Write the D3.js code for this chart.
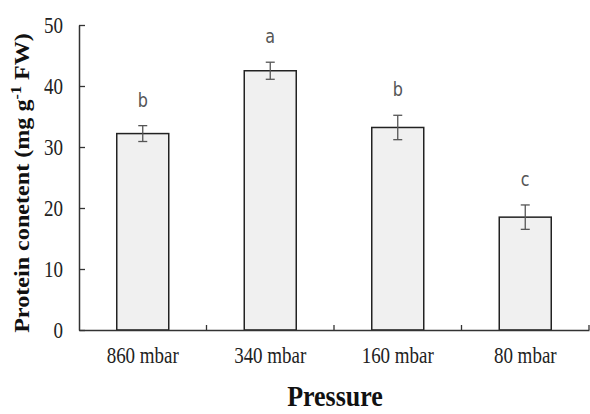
<!DOCTYPE html>
<html>
<head>
<meta charset="utf-8">
<script src="https://cdn.jsdelivr.net/npm/d3@7"></script>
<style>
  body { margin: 0; background: #fff; }
</style>
</head>
<body>
<svg id="chart" width="590" height="414"></svg>
<script>
// data
const categories = ["860 mbar", "340 mbar", "160 mbar", "80 mbar"];
const protein = [32.2, 42.5, 33.2, 18.5];
const errors = [1.3, 1.4, 2.0, 2.0];
const letters = ["b", "a", "b", "c"];
const yTicks = [0, 10, 20, 30, 40, 50];

const margin = {top: 25, right: 1, bottom: 84, left: 79};
const width = 590 - margin.left - margin.right,
      height = 414 - margin.top - margin.bottom;
const stretch = 1.2; // the original figure is a bit taller than wide

const serif = "'Liberation Serif', 'Times New Roman', serif";

const svg = d3.select("#chart")
  .append("g")
  .attr("transform", "translate(" + margin.left + "," + margin.top + ")");

const x = d3.scaleBand().domain(categories).range([0, width]).padding(0);
const y = d3.scaleLinear().domain([0, 50]).range([height, 0]);
const barW = 52;
const cx = i => x(categories[i]) + x.bandwidth() / 2;

// bars
svg.selectAll("rect.bar")
  .data(protein)
  .enter().append("rect")
  .attr("class", "bar")
  .attr("x", (d, i) => cx(i) - barW / 2)
  .attr("y", d => y(d))
  .attr("width", barW)
  .attr("height", d => height - y(d))
  .attr("fill", "#f0f0f0")
  .attr("stroke", "#222")
  .attr("stroke-width", 1.5);

// error bars
const err = svg.selectAll("g.err")
  .data(protein)
  .enter().append("g")
  .attr("class", "err")
  .attr("stroke", "#555")
  .attr("stroke-width", 1.3);
err.append("line")
  .attr("x1", (d, i) => cx(i))
  .attr("x2", (d, i) => cx(i))
  .attr("y1", (d, i) => y(d + errors[i]))
  .attr("y2", (d, i) => y(d - errors[i]));
[1, -1].forEach(s => {
  err.append("line")
    .attr("x1", (d, i) => cx(i) - 4.5)
    .attr("x2", (d, i) => cx(i) + 4.5)
    .attr("y1", (d, i) => y(d + s * errors[i]))
    .attr("y2", (d, i) => y(d + s * errors[i]));
});

// significance letters
svg.selectAll("text.sig")
  .data(protein)
  .enter().append("text")
  .attr("class", "sig")
  .attr("transform", (d, i) => "translate(" + cx(i) + "," + (y(d + errors[i]) - 19) + ") scale(1," + stretch + ")")
  .attr("text-anchor", "middle")
  .attr("font-family", "'DejaVu Sans', sans-serif")
  .attr("font-size", 16)
  .attr("fill", "#555")
  .text((d, i) => letters[i]);

// x axis
const xAxis = svg.append("g")
  .attr("transform", "translate(0," + height + ")")
  .call(d3.axisBottom(x).tickSize(0));
xAxis.select(".domain").attr("stroke", "#333").attr("stroke-width", 1.5);
xAxis.selectAll("text")
  .attr("y", null).attr("dy", null)
  .attr("transform", "translate(0,33) scale(1," + stretch + ")")
  .attr("font-family", serif)
  .attr("font-size", 19)
  .attr("fill", "#222");
// category separator ticks pointing up
svg.selectAll("line.sep")
  .data(categories)
  .enter().append("line")
  .attr("class", "sep")
  .attr("x1", d => x(d) + x.bandwidth())
  .attr("x2", d => x(d) + x.bandwidth())
  .attr("y1", height)
  .attr("y2", height - 5)
  .attr("stroke", "#333")
  .attr("stroke-width", 1.3);

// y axis
const yAxis = svg.append("g")
  .call(d3.axisLeft(y).tickValues(yTicks).tickSizeInner(-6).tickSizeOuter(0));
yAxis.select(".domain").attr("stroke", "#333").attr("stroke-width", 1.5);
yAxis.selectAll(".tick line").attr("stroke", "#333").attr("stroke-width", 1.3);
yAxis.selectAll("text")
  .attr("x", null).attr("dy", null)
  .attr("transform", "translate(-16,7) scale(1," + stretch + ")")
  .attr("font-family", serif)
  .attr("font-size", 19)
  .attr("fill", "#222");

// axis titles
const yLab = svg.append("text")
  .attr("transform", "translate(" + (29 - margin.left) + "," + (183 - margin.top) + ") rotate(-90) scale(1.15,1)")
  .attr("text-anchor", "middle")
  .attr("font-family", serif)
  .attr("font-weight", "bold")
  .attr("font-size", 21)
  .attr("fill", "#111");
yLab.append("tspan").text("Protein conetent (mg g");
yLab.append("tspan").attr("dy", -8).attr("font-size", 14).text("-1");
yLab.append("tspan").attr("dy", 8).text(" FW)");

svg.append("text")
  .attr("transform", "translate(" + (335 - margin.left) + "," + (406 - margin.top) + ") scale(1,1.15)")
  .attr("text-anchor", "middle")
  .attr("font-family", serif)
  .attr("font-weight", "bold")
  .attr("font-size", 26)
  .attr("fill", "#111")
  .text("Pressure");
</script>
</body>
</html>
